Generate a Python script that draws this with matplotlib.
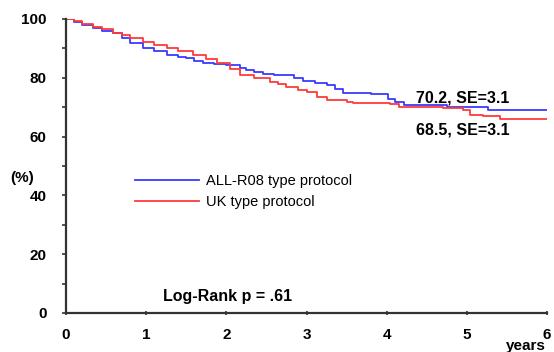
import matplotlib
matplotlib.use("Agg")
import matplotlib.pyplot as plt

# Data
blue_t = [0.00, 0.10, 0.20, 0.34, 0.45, 0.59, 0.70, 0.80, 0.96, 1.10, 1.26, 1.40, 1.50, 1.60, 1.71, 1.85, 2.00, 2.09, 2.17, 2.25, 2.35, 2.46, 2.60, 2.75, 2.85, 2.96, 3.10, 3.25, 3.35, 3.46, 3.62, 3.80, 3.96, 4.02, 4.10, 4.21, 4.66, 4.75, 5.26, 6.00]
blue_s = [100.0, 99.0, 98.0, 96.8, 96.0, 95.1, 93.5, 92.0, 90.0, 89.0, 87.8, 87.0, 86.6, 85.8, 85.0, 84.6, 84.4, 84.4, 83.5, 82.7, 82.0, 81.3, 81.0, 81.0, 80.0, 79.0, 78.4, 77.6, 76.2, 74.9, 74.7, 74.6, 74.5, 72.7, 71.9, 70.7, 70.7, 70.2, 68.9, 68.9]
red_t = [0.00, 0.10, 0.20, 0.34, 0.45, 0.59, 0.70, 0.80, 0.96, 1.10, 1.26, 1.40, 1.59, 1.75, 1.88, 2.04, 2.17, 2.34, 2.54, 2.65, 2.75, 2.90, 3.00, 3.13, 3.25, 3.50, 3.58, 4.04, 4.16, 4.58, 4.70, 4.95, 5.04, 5.20, 5.41, 6.00]
red_s = [100.0, 99.2, 98.3, 97.4, 96.5, 95.3, 94.4, 93.4, 92.3, 91.3, 90.3, 89.2, 87.8, 86.3, 84.9, 82.9, 81.0, 79.8, 78.7, 77.8, 76.8, 76.0, 75.3, 73.4, 72.4, 71.9, 71.3, 71.1, 70.2, 70.0, 69.6, 69.2, 67.3, 67.1, 66.0, 66.0]
series_labels = ["ALL-R08 type protocol", "UK type protocol"]
x_ticks = [0, 1, 2, 3, 4, 5, 6]
y_ticks = [0, 20, 40, 60, 80, 100]
annot_blue = "70.2, SE=3.1"
annot_red = "68.5, SE=3.1"
pvalue_text = "Log-Rank p = .61"

plt.rcParams['font.family'] = ['Liberation Sans', 'DejaVu Sans']

fig = plt.figure(figsize=(5.54, 3.52), dpi=100)
ax = fig.add_axes([66/554, 1-313/352, (547-66)/554, (313-19)/352])

blue_c = "#3a3aff"
red_c = "#ff3a3a"
lb, = ax.plot(blue_t, blue_s, drawstyle='steps-post', color=blue_c, lw=1.3)
lr, = ax.plot(red_t, red_s, drawstyle='steps-post', color=red_c, lw=1.3)

ax.set_xlim(0, 6)
ax.set_ylim(0, 100)
ax.set_xticks(x_ticks)
ax.set_yticks(y_ticks)
ax.set_yticks([10, 30, 50, 70, 90], minor=True)
ax.set_xticklabels([str(v) for v in x_ticks], fontsize=11, fontweight='bold')
ax.set_yticklabels([str(v) for v in y_ticks], fontsize=11, fontweight='bold')

for s in ['top', 'right']:
    ax.spines[s].set_visible(False)
for s in ['left', 'bottom']:
    ax.spines[s].set_linewidth(1.6)
    ax.spines[s].set_color('#333333')
ax.tick_params(axis='y', which='major', length=3, width=1.2, pad=11, color='#333333')
ax.tick_params(axis='y', which='minor', length=3, width=1.2, color='#333333')
ax.tick_params(axis='x', which='major', length=3, width=1.2, pad=9, direction='inout', color='#333333')

ax.text(4.95, 73.2, annot_blue, fontsize=11.5, fontweight='bold', ha='center', va='center')
ax.text(4.95, 62.4, annot_red, fontsize=11.5, fontweight='bold', ha='center', va='center')
ax.text(2.02, 5.6, pvalue_text, fontsize=11.5, fontweight='bold', ha='center', va='center')

fig.text(22/554, 1-178/352, "(%)", fontsize=11, fontweight='bold', ha='center', va='center')
fig.text(526/554, 1-346/352, "years", fontsize=11, fontweight='bold', ha='center', va='center')

ax.legend([lb, lr], series_labels, loc='upper left', bbox_to_anchor=(0.132, 0.492),
          frameon=False, fontsize=10.5, handlelength=4.4, handletextpad=0.45,
          labelspacing=0.45, borderaxespad=0)

fig.savefig("out.png", dpi=100)
